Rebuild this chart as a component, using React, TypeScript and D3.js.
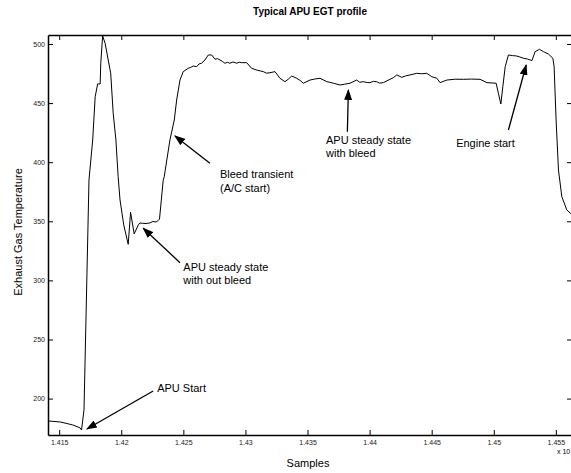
import React, { useEffect, useRef } from "react";
import * as d3 from "d3";

// sample index and EGT reading
const samples = [
  14141, 14151, 14161, 14167, 14168, 14170, 14174, 14177, 14179, 14181,
  14183, 14183.5, 14185, 14187, 14189.5, 14191.5, 14193.5, 14195.7, 14197.5, 14199,
  14202, 14205.6, 14207.5, 14210.4, 14213.7, 14215, 14217, 14220, 14223, 14225.5,
  14228, 14229.8, 14230.8, 14233.8, 14234.6, 14239.2, 14242.7, 14244.6, 14247.3, 14249.9,
  14253.9, 14256, 14258, 14260.7, 14262.6, 14264.7, 14267.4, 14270.1, 14272.8, 14275.5,
  14277.5, 14279.5, 14281.5, 14283.5, 14285.5, 14287.5, 14290, 14293, 14295, 14297,
  14301, 14305, 14309, 14312, 14314.4, 14317, 14319.8, 14323.8, 14327.8, 14331.8,
  14334.5, 14337.3, 14341.3, 14344, 14346.6, 14352, 14356, 14360.1, 14365.5, 14368,
  14370.8, 14376.2, 14380, 14384.2, 14389.6, 14392, 14394.9, 14398, 14400.3, 14403,
  14405.7, 14408, 14411.1, 14416.4, 14419, 14421.9, 14425.9, 14429, 14432.6, 14438,
  14442, 14446, 14450.1, 14454.1, 14456.8, 14462.2, 14469, 14475.6, 14482, 14489,
  14494.4, 14501.9, 14503.7, 14505.7, 14507.3, 14509.2, 14511.8, 14515, 14518.6, 14521,
  14523.9, 14527, 14529.3, 14530.7, 14533.3, 14536.8, 14540, 14544, 14547.6, 14548.6,
  14550.2, 14552.1, 14554.8, 14558.8, 14561.7, 14563,
];
const egt = [
  181.1, 180.2, 177.7, 175.1, 173.4, 190.4, 384.9, 418.8, 455.4, 466.2,
  466.2, 483.7, 506.8, 500.6, 486.5, 475.2, 441.4, 418.8, 387.7, 368,
  346.9, 330.5, 357.6, 339.3, 346.9, 348.6, 348.3, 348.1, 348.6, 349.8,
  349.4, 350.7, 351.9, 384.9, 387.7, 418.8, 435.7, 452.6, 469.5, 476.6,
  479.4, 480.2, 481.4, 480.8, 483.1, 483.7, 486.5, 490.7, 490.7, 487.1,
  487.6, 486.5, 485.2, 483.7, 484.5, 483.7, 484.8, 483.7, 484.6, 484.2,
  484.2, 479.4, 478, 477.2, 476.6, 475.3, 475.7, 476.6, 471, 468.1,
  470.2, 472.9, 471, 469.2, 466.8, 469.5, 470.4, 471, 468.1, 467.6,
  466.8, 465.3, 466, 466.8, 469.5, 467.6, 468.1, 467.4, 467.3, 468.4,
  468.1, 466.9, 467.3, 470.1, 471.4, 473.8, 471.8, 473, 473.8, 475.2,
  474.8, 475.2, 472.3, 471, 467.3, 469.5, 470.2, 470.1, 470.3, 470.1,
  467.3, 466.8, 458.3, 449.2, 463.9, 480.8, 490.7, 490.2, 489.8, 489,
  487.9, 487.3, 486.5, 485.9, 493.5, 495.5, 493.5, 491.5, 487.9, 480.8,
  435.7, 393.4, 370.8, 359.6, 356.8, 356,
];

const xTicks = [14150, 14200, 14250, 14300, 14350, 14400, 14450, 14500, 14550];
const yTicks = [200, 250, 300, 350, 400, 450, 500];

// callouts: text lines, text anchor, arrow tail and head (data units)
const noteText = [
  ["APU Start"],
  ["APU steady state", "with out bleed"],
  ["Bleed transient", "(A/C start)"],
  ["APU steady state", "with bleed"],
  ["Engine start"],
];
const noteAt = [
  [14228.9, 205.6],
  [14250, 308],
  [14279.5, 386.6],
  [14364.9, 415.4],
  [14469.7, 412.9],
];
const arrowFrom = [
  [14225.7, 206.4],
  [14247.3, 315],
  [14271.4, 399.1],
  [14382.1, 425.8],
  [14511.8, 427.2],
];
const arrowTo = [
  [14172.3, 174.3],
  [14217.7, 344.1],
  [14243.2, 422.2],
  [14382.9, 461.1],
  [14526.1, 482.2],
];

const W = 571;
const H = 473;
const font = "Liberation Sans, Arial, Helvetica, sans-serif";

export default function App() {
  const ref = useRef<SVGSVGElement>(null);

  useEffect(() => {
    const svg = d3.select(ref.current);
    svg.selectAll("*").remove();

    const left = 48, right = 572, top = 35, bottom = 435;
    const x = d3.scaleLinear().domain([14141, 14563]).range([left, right]);
    const y = d3.scaleLinear().domain([169.2, 507.6]).range([bottom, top]);

    svg.append("defs").append("marker")
      .attr("id", "head")
      .attr("markerUnits", "userSpaceOnUse")
      .attr("markerWidth", 11).attr("markerHeight", 8)
      .attr("refX", 10).attr("refY", 4)
      .attr("orient", "auto")
      .append("path").attr("d", "M0,0 L11,4 L0,8 Z").attr("fill", "#000");

    // title and axis labels
    svg.append("text").attr("x", 310).attr("y", 15)
      .attr("text-anchor", "middle").attr("font-weight", "bold")
      .attr("font-size", 10).attr("font-family", font)
      .text("Typical APU EGT profile");
    svg.append("text").attr("x", 308).attr("y", 467)
      .attr("text-anchor", "middle").attr("font-size", 11).attr("font-family", font)
      .text("Samples");
    svg.append("text").attr("transform", "translate(22,232) rotate(-90)")
      .attr("text-anchor", "middle").attr("font-size", 11).attr("font-family", font)
      .text("Exhaust Gas Temperature");
    svg.append("text").attr("x", 557).attr("y", 454)
      .attr("font-size", 7).attr("font-family", font).text("x 10");

    // axes, ticks point inwards like matlab
    const gx = svg.append("g").attr("transform", `translate(0,${bottom})`)
      .call(d3.axisBottom(x).tickValues(xTicks).tickSizeInner(-5).tickSizeOuter(0)
        .tickPadding(5).tickFormat((d) => d3.format("")(+d / 10000)));
    const gxt = svg.append("g").attr("transform", `translate(0,${top})`)
      .call(d3.axisTop(x).tickValues(xTicks).tickSizeInner(-5).tickSizeOuter(0)
        .tickFormat(() => ""));
    const gy = svg.append("g").attr("transform", `translate(${left},0)`)
      .call(d3.axisLeft(y).tickValues(yTicks).tickSizeInner(-5).tickSizeOuter(0).tickPadding(3));
    const gyr = svg.append("g").attr("transform", `translate(${right},0)`)
      .call(d3.axisRight(y).tickValues(yTicks).tickSizeInner(-5).tickSizeOuter(0)
        .tickFormat(() => ""));
    [gx, gxt, gy, gyr].forEach((g) => {
      g.select(".domain").attr("stroke", "#000").attr("stroke-width", 1.5);
      g.selectAll(".tick line").attr("stroke", "#000").attr("stroke-width", 1);
      g.selectAll("text").attr("font-size", 7).attr("font-family", font).attr("fill", "#222");
    });

    // trace
    const pts = samples.map((s, i) => [s, egt[i]] as [number, number]);
    svg.append("path")
      .attr("d", d3.line<[number, number]>().x((d) => x(d[0])).y((d) => y(d[1]))(pts))
      .attr("fill", "none").attr("stroke", "#000").attr("stroke-width", 1);

    // callouts
    noteText.forEach((lines, i) => {
      svg.append("line")
        .attr("x1", x(arrowFrom[i][0])).attr("y1", y(arrowFrom[i][1]))
        .attr("x2", x(arrowTo[i][0])).attr("y2", y(arrowTo[i][1]))
        .attr("stroke", "#000").attr("stroke-width", 1.3)
        .attr("marker-end", "url(#head)");
      const t = svg.append("text").attr("font-size", 11).attr("font-family", font);
      lines.forEach((ln, j) => {
        t.append("tspan").attr("x", x(noteAt[i][0])).attr("y", y(noteAt[i][1]) + j * 13.5).text(ln);
      });
    });
  }, []);

  return (
    <svg ref={ref} width={W} height={H}
      style={{ position: "absolute", left: 0, top: 0, background: "#fff" }} />
  );
}
